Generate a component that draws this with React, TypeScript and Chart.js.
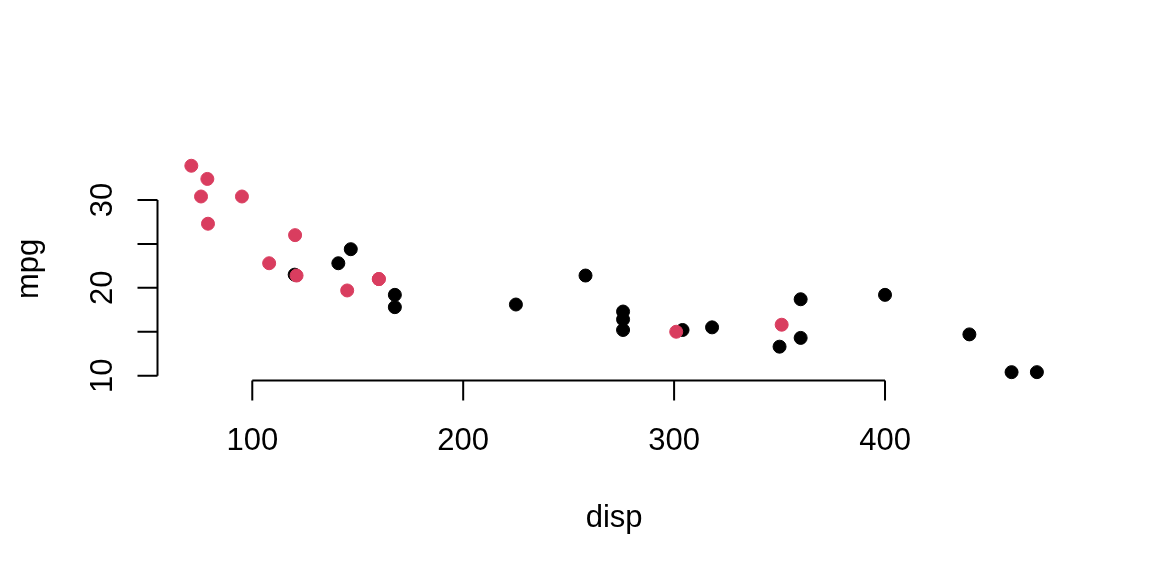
import React, { useEffect, useRef } from "react";
import { Chart, registerables } from "chart.js";

Chart.register(...registerables);

// mtcars: disp vs mpg, split by transmission (am)
const manualDisp = [160, 160, 108, 78.7, 75.7, 71.1, 79, 120.3, 95.1, 351, 145, 301, 121];
const manualMpg = [21, 21, 22.8, 32.4, 30.4, 33.9, 27.3, 26, 30.4, 15.8, 19.7, 15, 21.4];
const autoDisp = [258, 360, 225, 360, 146.7, 140.8, 167.6, 167.6, 275.8, 275.8, 275.8, 472, 460, 440, 120.1, 318, 304, 350, 400];
const autoMpg = [21.4, 18.7, 18.1, 14.3, 24.4, 22.8, 19.2, 17.8, 16.4, 17.3, 15.2, 10.4, 10.4, 14.7, 21.5, 15.5, 15.2, 13.3, 19.2];

const xTicks = [100, 200, 300, 400];
const xTickLabels = ["100", "200", "300", "400"];
const yTicks = [10, 15, 20, 25, 30];
const yTickLabels = ["10", "", "20", "", "30"];

const xTitle = "disp";
const yTitle = "mpg";

const RED = "#D93D5F";
const BLACK = "#000000";
const FONT = '31px "Liberation Sans", Arial, Helvetica, sans-serif';

function pad4(vals: number[]) {
  const lo = Math.min(...vals);
  const hi = Math.max(...vals);
  const r = hi - lo;
  return [lo - 0.04 * r, hi + 0.04 * r];
}

const rAxesPlugin = {
  id: "rAxes",
  afterDraw(chart: any) {
    const { ctx, chartArea, scales } = chart;
    const xs = scales.x;
    const ys = scales.y;
    const tick = 20;
    ctx.save();
    ctx.strokeStyle = BLACK;
    ctx.fillStyle = BLACK;
    ctx.lineWidth = 2;
    ctx.lineCap = "butt";
    ctx.font = FONT;

    // x axis
    const ax = chartArea.bottom;
    const x0 = xs.getPixelForValue(xTicks[0]);
    const x1 = xs.getPixelForValue(xTicks[xTicks.length - 1]);
    ctx.beginPath();
    ctx.moveTo(x0, ax);
    ctx.lineTo(x1, ax);
    xTicks.forEach((v) => {
      const px = xs.getPixelForValue(v);
      ctx.moveTo(px, ax);
      ctx.lineTo(px, ax + tick);
    });
    ctx.stroke();
    ctx.textAlign = "center";
    ctx.textBaseline = "alphabetic";
    xTicks.forEach((v, i) => {
      ctx.fillText(xTickLabels[i], xs.getPixelForValue(v), ax + 70);
    });

    // y axis
    const ay = chartArea.left;
    const y0 = ys.getPixelForValue(yTicks[0]);
    const y1 = ys.getPixelForValue(yTicks[yTicks.length - 1]);
    ctx.beginPath();
    ctx.moveTo(ay, y0);
    ctx.lineTo(ay, y1);
    yTicks.forEach((v) => {
      const py = ys.getPixelForValue(v);
      ctx.moveTo(ay, py);
      ctx.lineTo(ay - tick, py);
    });
    ctx.stroke();
    yTicks.forEach((v, i) => {
      if (!yTickLabels[i]) return;
      const py = ys.getPixelForValue(v);
      ctx.save();
      ctx.translate(ay - 45.5, py);
      ctx.rotate(-Math.PI / 2);
      ctx.textAlign = "center";
      ctx.fillText(yTickLabels[i], 0, 0);
      ctx.restore();
    });

    // titles
    ctx.textAlign = "center";
    ctx.fillText(xTitle, (chartArea.left + chartArea.right) / 2, ax + 147);
    ctx.save();
    ctx.translate(38, (chartArea.top + chartArea.bottom) / 2);
    ctx.rotate(-Math.PI / 2);
    ctx.fillText(yTitle, 0, 0);
    ctx.restore();
    ctx.restore();
  },
};

export default function App() {
  const ref = useRef<HTMLCanvasElement | null>(null);

  useEffect(() => {
    if (!ref.current) return;
    const [xMin, xMax] = pad4([...manualDisp, ...autoDisp]);
    const [yMin, yMax] = pad4([...manualMpg, ...autoMpg]);
    const chart = new Chart(ref.current, {
      type: "scatter",
      data: {
        datasets: [
          {
            label: "manual",
            data: manualDisp.map((d, i) => ({ x: d, y: manualMpg[i] })),
            backgroundColor: RED,
            borderColor: RED,
            pointRadius: 6.5,
            pointBorderWidth: 1,
          },
          {
            label: "automatic",
            data: autoDisp.map((d, i) => ({ x: d, y: autoMpg[i] })),
            backgroundColor: BLACK,
            borderColor: BLACK,
            pointRadius: 6.5,
            pointBorderWidth: 1,
          },
        ],
      },
      options: {
        responsive: false,
        animation: false,
        devicePixelRatio: 1,
        clip: false as any,
        layout: { padding: { left: 157.5, right: 81.3, top: 157.5, bottom: 195.6 } },
        plugins: { legend: { display: false }, tooltip: { enabled: false } },
        events: [],
        scales: {
          x: { type: "linear", display: false, min: xMin, max: xMax },
          y: { type: "linear", display: false, min: yMin, max: yMax },
        },
      },
      plugins: [rAxesPlugin],
    });
    return () => chart.destroy();
  }, []);

  return (
    <div style={{ position: "absolute", left: 0, top: 0, width: 1152, height: 576, background: "#fff" }}>
      <canvas ref={ref} width={1152} height={576} style={{ display: "block", width: 1152, height: 576 }} />
    </div>
  );
}
